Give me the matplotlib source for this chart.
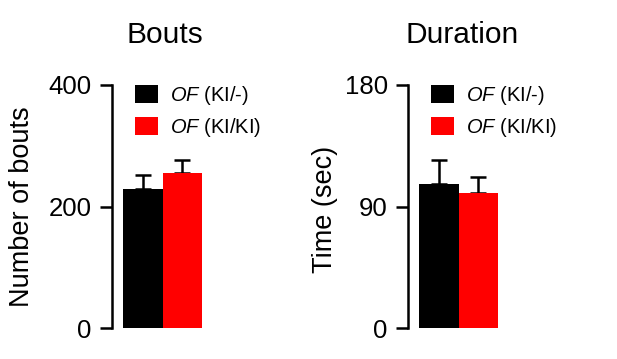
import matplotlib
matplotlib.use('Agg')
import matplotlib.pyplot as plt
from matplotlib.patches import Patch

plt.rcParams['font.family'] = ['Liberation Sans', 'DejaVu Sans']
plt.rcParams['mathtext.fontset'] = 'custom'
plt.rcParams['mathtext.it'] = 'Liberation Sans:italic'
plt.rcParams['mathtext.rm'] = 'Liberation Sans'

groups = ['$\\it{OF}$ (KI/-)', '$\\it{OF}$ (KI/KI)']
colors = ['black', '#ff0000']

bouts_mean = [229, 255]
bouts_err = [23, 21]
dur_mean = [106.5, 100]
dur_err = [18, 12]

titles = ['Bouts', 'Duration']
ylabels = ['Number of bouts', 'Time (sec)']
yticks = [[0, 200, 400], [0, 90, 180]]

W, H = 617, 359
fig = plt.figure(figsize=(W / 100, H / 100), dpi=100)

def px_axes(left, top, bottom, width):
    return fig.add_axes([left / W, 1 - bottom / H, width / W, (bottom - top) / H])

panels = [
    dict(ax=px_axes(112, 85, 328, 178), mean=bouts_mean, err=bouts_err,
         title_x=165, ylab_x=22, ylab_y=207),
    dict(ax=px_axes(408, 85, 328, 178), mean=dur_mean, err=dur_err,
         title_x=462, ylab_x=325, ylab_y=209),
]

bar_px = 39.5
for i, p in enumerate(panels):
    ax = p['ax']
    xs = [0, 1]
    ax.bar(xs, p['mean'], width=1.0, color=colors, edgecolor='none', zorder=2)
    for x, m, e in zip(xs, p['mean'], p['err']):
        ax.errorbar(x, m, yerr=[[0], [e]], fmt='none', ecolor='black',
                    elinewidth=1.8, capsize=5.5, capthick=1.8, zorder=1)
    off = 11 / bar_px
    ax.set_xlim(-0.5 - off, -0.5 - off + 178 / bar_px)
    ax.set_ylim(yticks[i][0], yticks[i][-1])
    ax.set_yticks(yticks[i])
    ax.set_xticks([])
    for s in ['top', 'right', 'bottom']:
        ax.spines[s].set_visible(False)
    ax.spines['left'].set_linewidth(1.8)
    ax.tick_params(axis='y', length=8.5, width=1.8, labelsize=18.5, pad=6)
    ax.patch.set_alpha(0)

    handles = [Patch(facecolor=c, edgecolor='none') for c in colors]
    ax.legend(handles, groups, loc='upper left', bbox_to_anchor=(23 / 178, 1.005),
              frameon=False, fontsize=14.5, handlelength=1.15, handleheight=0.95,
              handletextpad=0.6, labelspacing=0.45, borderpad=0, borderaxespad=0)

    fig.text(p['title_x'] / W, 1 - 43 / H, titles[i], ha='center', va='baseline',
             fontsize=21.5)
    fig.text(p['ylab_x'] / W, 1 - p['ylab_y'] / H, ylabels[i], rotation=90,
             ha='center', va='center', fontsize=19.5)

fig.savefig('out.png', dpi=100)
